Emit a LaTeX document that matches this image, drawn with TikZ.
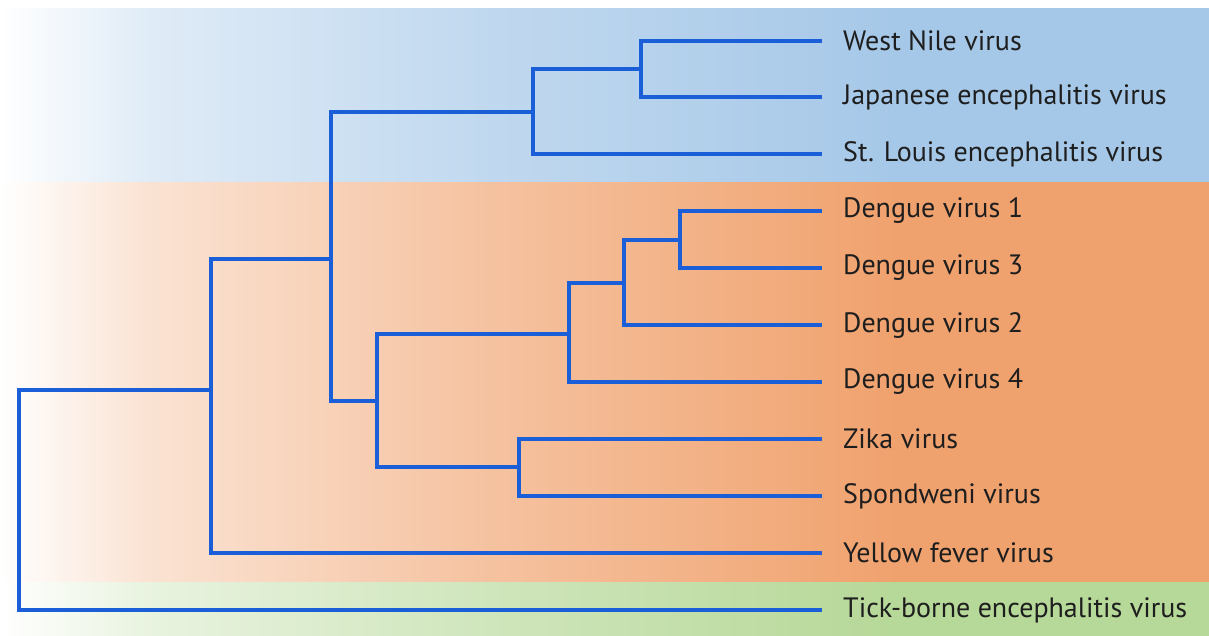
\documentclass[tikz,border=0pt]{standalone}
\usepackage{fontspec}
\setmainfont{PT Sans}
\definecolor{bandblue}{RGB}{166,200,232}
\definecolor{bandorange}{RGB}{240,162,110}
\definecolor{bandgreen}{RGB}{182,216,152}
\definecolor{treeblue}{RGB}{26,95,216}
\definecolor{labeltext}{RGB}{30,30,30}
\pgfdeclarehorizontalshading{blueband}{100bp}{color(0bp)=(white); color(25bp)=(white); color(31bp)=(bandblue!35!white); color(45bp)=(bandblue!70!white); color(62bp)=(bandblue); color(100bp)=(bandblue)}
\pgfdeclarehorizontalshading{orangeband}{100bp}{color(0bp)=(white); color(25bp)=(white); color(31bp)=(bandorange!30!white); color(45bp)=(bandorange!65!white); color(62bp)=(bandorange); color(100bp)=(bandorange)}
\pgfdeclarehorizontalshading{greenband}{100bp}{color(0bp)=(white); color(25bp)=(white); color(31bp)=(bandgreen!30!white); color(45bp)=(bandgreen!65!white); color(62bp)=(bandgreen); color(100bp)=(bandgreen)}
\tikzset{
  branch/.style={draw=treeblue, line width=3.6pt, line cap=rect},
  leaf/.style={anchor=west, inner sep=0pt, font=\fontsize{28}{30}\selectfont, text=labeltext},
}
\begin{document}
\begin{tikzpicture}[x=1pt,y=-1pt]
\useasboundingbox (0,0) rectangle (1209,636);
\fill[white] (0,0) rectangle (1209,636);
% bands
\shade[shading=blueband] (0,9) rectangle (1209,183);
\shade[shading=orangeband] (0,183) rectangle (1209,582);
\shade[shading=greenband] (0,582) rectangle (1209,636);
% leaf tips
\coordinate (tWN) at (820,41);
\coordinate (tJE) at (820,97);
\coordinate (tSL) at (820,154);
\coordinate (tD1) at (820,211);
\coordinate (tD3) at (820,268);
\coordinate (tD2) at (820,325);
\coordinate (tD4) at (820,382);
\coordinate (tZK) at (820,439);
\coordinate (tSP) at (820,496);
\coordinate (tYF) at (820,553);
\coordinate (tTB) at (820,610);
% labels
\node[leaf] (lWN) at (843,41) {West Nile virus};
\node[leaf] (lJE) at (843,97) {Japanese encephalitis virus};
\node[leaf] (lSL) at (843,154) {St. Louis encephalitis virus};
\node[leaf] (lD1) at (843,211) {Dengue virus 1};
\node[leaf] (lD3) at (843,268) {Dengue virus 3};
\node[leaf] (lD2) at (843,325) {Dengue virus 2};
\node[leaf] (lD4) at (843,382) {Dengue virus 4};
\node[leaf] (lZK) at (843,439) {Zika virus};
\node[leaf] (lSP) at (843,496) {Spondweni virus};
\node[leaf] (lYF) at (843,553) {Yellow fever virus};
\node[leaf] (lTB) at (843,610) {Tick-borne encephalitis virus};
% internal nodes (x position, mid y)
\coordinate (nA) at (641,69);   % WN+JE
\coordinate (nB) at (533,112);  % A+SL
\coordinate (nC) at (680,240);  % D1+D3
\coordinate (nD) at (624,283);  % C+D2
\coordinate (nE) at (569,334);  % D+D4
\coordinate (nF) at (519,467);  % Zika+Spondweni
\coordinate (nG) at (377,401);  % E+F
\coordinate (nH) at (331,259);  % B+G
\coordinate (nI) at (211,390);  % H+YF
\coordinate (nR) at (19,500);   % I+TB
% branches
\draw[branch] (tWN) -| (nA) |- (tJE);
\draw[branch] (nA) -| (nB) |- (tSL);
\draw[branch] (tD1) -| (nC) |- (tD3);
\draw[branch] (nC) -| (nD) |- (tD2);
\draw[branch] (nD) -| (nE) |- (tD4);
\draw[branch] (tZK) -| (nF) |- (tSP);
\draw[branch] (nE) -| (nG) |- (nF);
\draw[branch] (nB) -| (nH) |- (nG);
\draw[branch] (nH) -| (nI) |- (tYF);
\draw[branch] (nI) -| (nR) |- (tTB);
\end{tikzpicture}
\end{document}
